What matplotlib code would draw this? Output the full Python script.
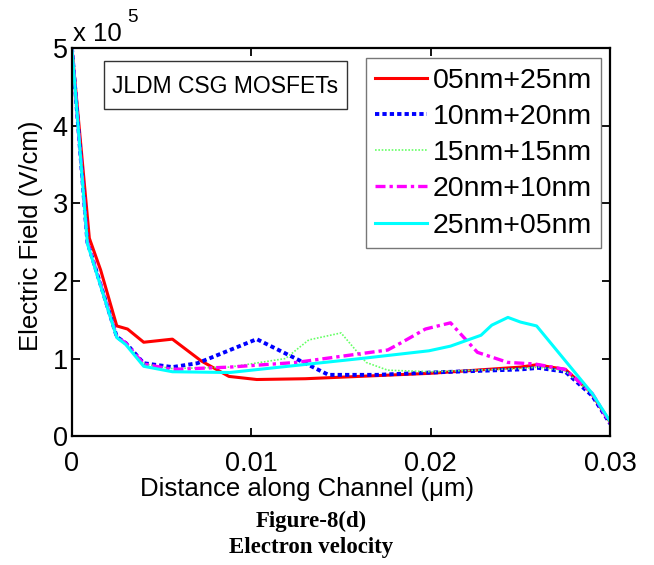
import numpy as np
import matplotlib
matplotlib.use("Agg")
import matplotlib.pyplot as plt
from matplotlib.patches import Rectangle

plt.rcParams['font.family'] = ['Liberation Sans', 'DejaVu Sans']

# distance along channel (um) and field (x 1e5 V/cm)
x_05_25 = [0.0, 0.00097, 0.0016, 0.0025, 0.0031, 0.0040, 0.0056, 0.0072, 0.00875, 0.0103,
           0.013, 0.015, 0.020, 0.025, 0.0259, 0.0275, 0.0289, 0.0300]
e_05_25 = [5.0, 2.55, 2.14, 1.42, 1.38, 1.21, 1.25, 0.97, 0.77, 0.73,
           0.74, 0.76, 0.81, 0.89, 0.92, 0.86, 0.57, 0.18]

x_10_20 = [0.0, 0.00086, 0.0025, 0.0030, 0.0040, 0.0056, 0.0070, 0.0103, 0.0143,
           0.017, 0.020, 0.025, 0.026, 0.0275, 0.029, 0.0300]
e_10_20 = [5.0, 2.5, 1.28, 1.2, 0.94, 0.89, 0.94, 1.25, 0.79,
           0.79, 0.82, 0.86, 0.88, 0.83, 0.52, 0.16]

x_15_15 = [0.0, 0.00086, 0.0025, 0.0030, 0.0040, 0.0056, 0.0088, 0.0119, 0.0132, 0.0150,
           0.0164, 0.0176, 0.020, 0.025, 0.026, 0.0275, 0.029, 0.0300]
e_15_15 = [5.0, 2.5, 1.28, 1.2, 0.93, 0.87, 0.89, 1.0, 1.24, 1.33,
           0.95, 0.85, 0.83, 0.87, 0.89, 0.84, 0.54, 0.17]

x_20_10 = [0.0, 0.00086, 0.0025, 0.0030, 0.0040, 0.0056, 0.0088, 0.0125, 0.0176, 0.0184,
           0.0197, 0.0211, 0.0226, 0.0243, 0.0258, 0.0275, 0.029, 0.0300]
e_20_10 = [5.0, 2.5, 1.28, 1.2, 0.93, 0.86, 0.89, 0.95, 1.11, 1.21,
           1.38, 1.46, 1.08, 0.95, 0.93, 0.86, 0.55, 0.17]

x_25_05 = [0.0, 0.00086, 0.0025, 0.0030, 0.0040, 0.0056, 0.0088, 0.0104, 0.0161, 0.0199,
           0.0211, 0.0228, 0.0234, 0.0243, 0.0250, 0.0259, 0.0290, 0.0300]
e_25_05 = [5.0, 2.48, 1.27, 1.18, 0.90, 0.83, 0.82, 0.86, 1.0, 1.10,
           1.16, 1.30, 1.43, 1.53, 1.47, 1.42, 0.55, 0.19]

labels = ['05nm+25nm', '10nm+20nm', '15nm+15nm', '20nm+10nm', '25nm+05nm']
xticks = [0, 0.01, 0.02, 0.03]
xtick_labels = ['0', '0.01', '0.02', '0.03']
yticks = [0, 1, 2, 3, 4, 5]

fig = plt.figure(figsize=(6.54, 5.65), dpi=100)
ax = fig.add_axes([0.110, 0.228, 0.823, 0.687])

ax.plot(x_05_25, e_05_25, color='#ff0000', lw=2.2, ls='-', label=labels[0])
ax.plot(x_10_20, e_10_20, color='#0000ff', lw=2.8, ls=(0, (1.1, 0.8)), label=labels[1])
ax.plot(x_15_15, e_15_15, color='#66ff66', lw=1.2, ls=(0, (1, 1)), label=labels[2])
ax.plot(x_20_10, e_20_10, color='#ff00ff', lw=2.4, ls=(0, (3, 1.2, 1, 1.2)), label=labels[3])
ax.plot(x_25_05, e_25_05, color='#00ffff', lw=2.2, ls='-', label=labels[4])

ax.set_xlim(0, 0.03)
ax.set_ylim(0, 5)
ax.set_xticks(xticks)
ax.set_xticklabels(xtick_labels)
ax.set_yticks(yticks)
ax.set_yticklabels([str(v) for v in yticks])
ax.tick_params(direction='in', length=6, width=1.3, top=True, right=True, labelsize=19.5)
ax.tick_params(axis='x', pad=11)
ax.tick_params(axis='y', pad=3)
for s in ax.spines.values():
    s.set_linewidth(1.6)

fig.text(307 / 654, 1 - 496 / 565, 'Distance along Channel (\u03bcm)', fontsize=18.5,
         ha='center', va='baseline')
fig.text(31.5 / 654, 1 - 236 / 565, 'Electric Field (V/cm)', fontsize=18.5,
         rotation=90, ha='center', va='center')
fig.text(73 / 654, 1 - 41 / 565, 'x 10', fontsize=18.5, ha='left', va='baseline')
fig.text(127 / 654, 1 - 22 / 565, '5', fontsize=13.5, ha='left', va='baseline')

leg = ax.legend(loc='upper right', bbox_to_anchor=(0.983, 0.974), fontsize=20.5,
                frameon=True, fancybox=False, edgecolor='#555555', handlelength=1.8,
                handletextpad=0.2, borderpad=0.33, labelspacing=0.36, borderaxespad=0)
leg.get_frame().set_linewidth(1.0)

ax.add_patch(Rectangle((0.0595, 0.843), 0.4515, 0.123, transform=ax.transAxes,
                       fc='white', ec='#333333', lw=1.0, zorder=5))
ax.text(0.285, 0.902, 'JLDM CSG MOSFETs', transform=ax.transAxes, fontsize=16.5,
        va='center', ha='center', zorder=6)

fig.text(311 / 654, 1 - 527 / 565, 'Figure-8(d)', fontsize=16.5, fontweight='bold',
         family='Liberation Serif', ha='center', va='baseline')
fig.text(311 / 654, 1 - 553 / 565, 'Electron velocity', fontsize=16.5, fontweight='bold',
         family='Liberation Serif', ha='center', va='baseline')

fig.savefig('out.png', dpi=100)
